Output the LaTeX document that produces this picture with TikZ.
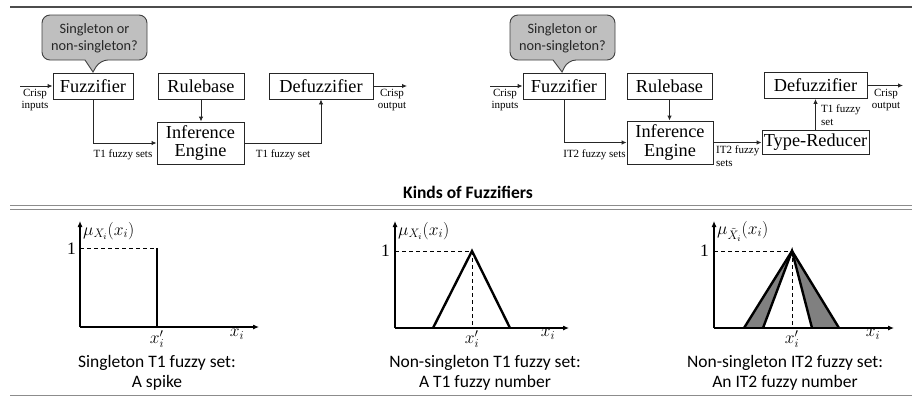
\RequirePackage{fix-cm}
\documentclass[tikz,border=0pt]{standalone}
\usepackage{fontspec}
\setmainfont{Liberation Serif}
\newfontfamily\calib{Carlito}
\usetikzlibrary{arrows.meta}

\begin{document}
\begin{tikzpicture}[x=1pt,y=-1pt,
  block/.style={draw=black!85, line width=0.9pt, inner sep=0pt, align=center,
    font=\fontsize{18.3}{19.5}\selectfont},
  flow/.style={draw=black!85, line width=0.9pt, -{Latex[length=5pt,width=4.5pt]}},
  lbl/.style={font=\fontsize{11}{11.5}\selectfont, inner sep=0pt, align=center},
  bubble/.style={draw=black!75, fill=black!25, line width=0.9pt},
  bubtext/.style={font=\calib\fontsize{14.3}{17}\selectfont, align=center, inner sep=0pt, text=black!85},
  axis/.style={line width=1.1pt, -{Latex[length=6pt,width=5pt]}},
  guide/.style={dash pattern=on 4pt off 3pt, line width=0.9pt},
  curve/.style={line width=2.4pt, line join=miter},
  wedge/.style={fill=black!50, draw=none},
  caption/.style={font=\calib\fontsize{17.5}{20}\selectfont, align=center, inner sep=0pt},
  mathlbl/.style={font=\fontsize{17.5}{17.5}\selectfont, inner sep=0pt},
  sep/.style={line width=1pt, draw=black!45}
]
\useasboundingbox (0,0) rectangle (912,397);

% ---------- separating rules ----------
\draw[line width=1.2pt, draw=black!70] (10,7) -- (912,7);
\draw[sep] (10,205.5) -- (912,205.5);
\draw[sep] (10,209) -- (912,209);
\draw[sep] (10,395) -- (912,395);

% ================= T1 fuzzy logic system =================
\draw[bubble] {[rounded corners=8pt] (85,60) -- (42,60) -- (42,15) -- (147,15) -- (147,60) -- (100,60)} -- (93,72) -- cycle;
\node[bubtext] (askL) at (94.5,38) {Singleton or\\non-singleton?};

\node[block, minimum width=80pt, minimum height=26pt] (fuzL) at (93,86) {Fuzzifier};
\node[block, minimum width=86pt, minimum height=26pt] (ruleL) at (201,86) {Rulebase};
\node[block, minimum width=104pt, minimum height=26pt] (defL) at (321,86) {Defuzzifier};
\node[block, minimum width=87pt, minimum height=42pt] (infL) at (200.5,143) {Inference\\[-1pt]Engine};

\coordinate (inL) at (20,86);
\coordinate (outL) at (407,86);
\draw[flow] (inL) -- (fuzL.west);
\draw[flow] (defL.east) -- (outL);
\draw[flow] (fuzL.south) |- (infL.west);
\draw[flow] (ruleL.south) -- (ruleL.south |- infL.north);
\draw[flow] (infL.east) -| (defL.south);

\node[lbl] (cinL) at (35,100) {Crisp\\inputs};
\node[lbl] (coutL) at (392,100) {Crisp\\output};
\node[lbl] (t1sL) at (123,155) {T1 fuzzy sets};
\node[lbl] (t1L) at (283,155) {T1 fuzzy set};

% ================= IT2 fuzzy logic system =================
\draw[bubble] {[rounded corners=8pt] (553,60) -- (510,60) -- (510,15) -- (615,15) -- (615,60) -- (568,60)} -- (562,72) -- cycle;
\node[bubtext] (askR) at (562.5,38) {Singleton or\\non-singleton?};

\node[block, minimum width=82pt, minimum height=26pt] (fuzR) at (564,86) {Fuzzifier};
\node[block, minimum width=85pt, minimum height=26pt] (ruleR) at (669.5,86) {Rulebase};
\node[block, minimum width=103pt, minimum height=26pt] (defR) at (815.5,85.5) {Defuzzifier};
\node[block, minimum width=86pt, minimum height=43pt] (infR) at (670,142.5) {Inference\\[-1pt]Engine};
\node[block, minimum width=107pt, minimum height=24pt] (typR) at (815.5,142.5) {Type-Reducer};

\coordinate (inR) at (490,86);
\coordinate (outR) at (903,85.5);
\draw[flow] (inR) -- (fuzR.west);
\draw[flow] (defR.east) -- (outR);
\draw[flow] (fuzR.south) |- (infR.west);
\draw[flow] (ruleR.south) -- (ruleR.south |- infR.north);
\draw[flow] (infR.east) -- (typR.west);
\draw[flow] (typR.north) -- (defR.south);

\node[lbl] (cinR) at (505,100) {Crisp\\inputs};
\node[lbl] (coutR) at (886,100) {Crisp\\output};
\node[lbl] (it2sR) at (594.5,155) {IT2 fuzzy sets};
\node[lbl, anchor=north west, align=left] (it2R) at (716,146) {IT2 fuzzy\\[1pt]sets};
\node[lbl, anchor=west, align=left] (t1R) at (821,115) {T1 fuzzy\\[1pt]set};

% ---------- title ----------
\node[font=\calib\bfseries\fontsize{17.5}{20}\selectfont, inner sep=0pt] (title) at (468,192) {Kinds of Fuzzifiers};

% ================= singleton T1 =================
\coordinate (o1) at (80,327);
\coordinate (y1) at (80,221);
\coordinate (x1) at (259,327);
\coordinate (p1) at (157,248);
\draw[guide] (o1 |- p1) -- (p1);
\draw[axis] (o1) -- (y1);
\draw[axis] (o1) -- (x1);
\draw[curve] (p1) -- (p1 |- o1);
\node[mathlbl, anchor=east] (one1) at (76,249) {1};
\node[mathlbl, anchor=west] (mu1) at (83,231) {$\mu_{X_i}(x_i)$};
\node[mathlbl] (xp1) at (157,339) {$x_i'$};
\node[mathlbl] (xi1) at (237,334) {$x_i$};
\node[caption] (cap1) at (157,373) {Singleton T1 fuzzy set:\\A spike};

% ================= non-singleton T1 =================
\coordinate (o2) at (395,328);
\coordinate (y2) at (395,221);
\coordinate (x2) at (569,328);
\coordinate (p2) at (472,251);
\draw[guide] (o2 |- p2) -- (p2);
\draw[guide] (p2) -- (p2 |- o2);
\draw[axis] (o2) -- (y2);
\draw[axis] (o2) -- (x2);
\draw[curve] (433,328) -- (p2) -- (510,328);
\node[mathlbl, anchor=east] (one2) at (390,251) {1};
\node[mathlbl, anchor=west] (mu2) at (398,231) {$\mu_{X_i}(x_i)$};
\node[mathlbl] (xp2) at (472,339) {$x_i'$};
\node[mathlbl] (xi2) at (548,334) {$x_i$};
\node[caption] (cap2) at (485,373) {Non-singleton T1 fuzzy set:\\A T1 fuzzy number};

% ================= non-singleton IT2 =================
\coordinate (o3) at (714,328);
\coordinate (y3) at (714,221);
\coordinate (x3) at (894,328);
\coordinate (p3) at (792,251);
\fill[wedge] (744,328) -- (p3) -- (763,328) -- cycle;
\fill[wedge] (812,328) -- (p3) -- (839,328) -- cycle;
\draw[guide] (o3 |- p3) -- (p3);
\draw[guide] (p3) -- (p3 |- o3);
\draw[axis] (o3) -- (y3);
\draw[axis] (o3) -- (x3);
\draw[curve] (744,328) -- (p3) -- (839,328);
\draw[curve] (763,328) -- (p3) -- (812,328);
\draw[line width=2.4pt] (744,328) -- (763,328);
\draw[line width=2.4pt] (812,328) -- (839,328);
\node[mathlbl, anchor=east] (one3) at (709,251) {1};
\node[mathlbl, anchor=west] (mu3) at (717,231) {$\mu_{\tilde{X}_i}(x_i)$};
\node[mathlbl] (xp3) at (792,339) {$x_i'$};
\node[mathlbl] (xi3) at (873,334) {$x_i$};
\node[caption] (cap3) at (785,373) {Non-singleton IT2 fuzzy set:\\An IT2 fuzzy number};

\end{tikzpicture}
\end{document}
